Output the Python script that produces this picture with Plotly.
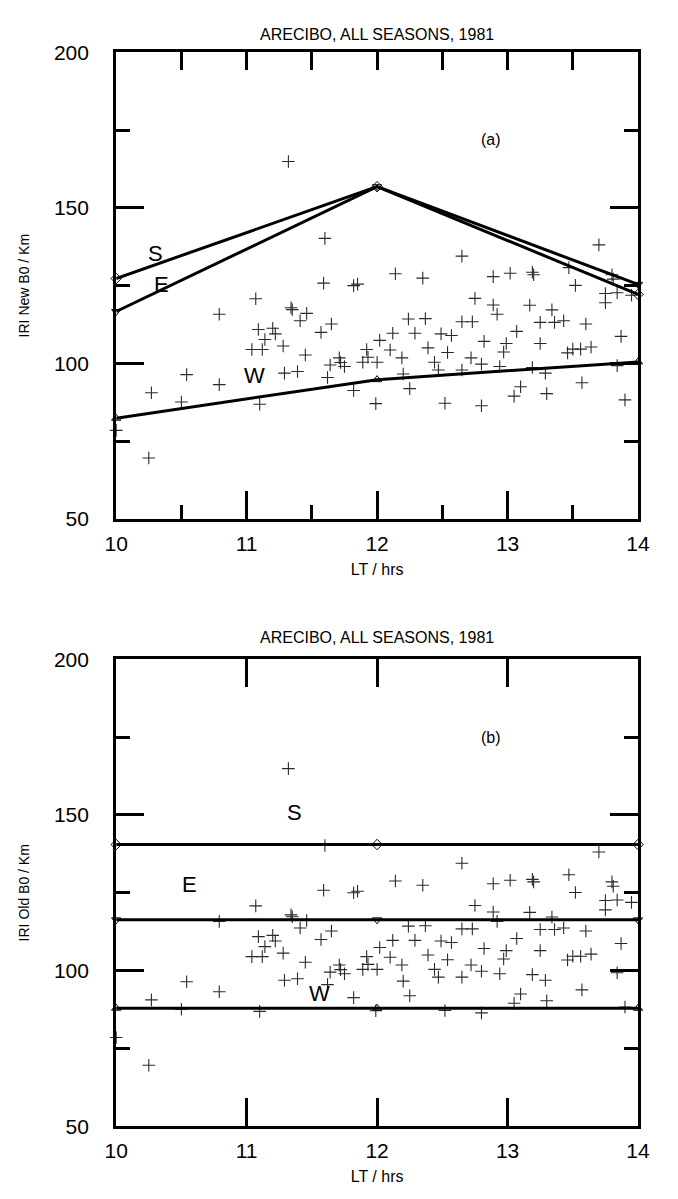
import plotly.graph_objects as go

# ---------------- data ----------------
lt_nodes = [10, 12, 14]
new_S = [127.3, 156.8, 122.2]
new_E = [116.7, 156.8, 125.4]
new_W = [82.4, 94.8, 100.5]
old_S = [140.5, 140.5, 140.5]
old_E = [116.3, 116.3, 116.3]
old_W = [87.9, 87.9, 87.9]

obs_lt = [
    11.32, 11.60, 11.59, 11.82, 11.85, 11.07, 10.79, 11.34, 11.35, 11.46, 11.41, 11.65,
    11.09, 11.20, 11.22, 11.14, 11.57, 11.04, 11.12, 11.28, 11.45, 11.71, 11.72, 11.75,
    11.64, 11.92, 11.93, 11.89, 12.00, 12.02, 10.54, 10.79, 10.27, 10.50, 11.29, 11.39,
    11.62, 11.82, 11.10, 11.99, 10.00, 10.25,
    13.70, 12.65, 12.14, 12.35, 12.89, 13.02, 13.19, 13.20, 13.47, 13.52, 13.80, 13.81,
    12.75, 12.89, 12.92, 13.17, 13.34, 13.75, 13.84, 13.75, 13.95, 12.24, 12.37, 12.65,
    12.73, 13.25, 13.36, 13.43, 13.60,
    13.87, 12.12, 12.29, 12.49, 12.57, 12.82, 12.99, 13.07, 13.25, 12.10, 12.39, 12.54,
    12.97, 13.46, 13.50, 13.56, 13.64, 12.19, 12.20, 12.44, 12.47, 12.72, 12.80, 12.65,
    12.94, 13.19, 13.29, 12.25, 12.52, 12.80, 13.05, 13.10, 13.30, 13.57, 13.84, 13.90,
]
obs_b0 = [
    164.9, 140.2, 125.8, 125.0, 125.5, 120.8, 115.8, 117.9, 117.3, 116.1, 113.7, 112.7,
    110.9, 111.3, 109.5, 107.7, 110.0, 104.5, 104.5, 105.6, 102.7, 101.8, 100.3, 99.0,
    99.5, 104.5, 102.0, 100.4, 100.4, 107.4, 96.4, 93.2, 90.6, 87.6, 96.9, 97.4,
    95.5, 91.3, 86.9, 87.1, 78.5, 69.6,
    138.1, 134.5, 128.8, 127.4, 127.9, 129.0, 129.3, 128.5, 130.8, 125.1, 128.5, 127.1,
    120.9, 118.8, 115.8, 118.7, 117.2, 122.5, 122.7, 119.5, 121.9, 114.3, 114.4, 113.4,
    113.4, 113.2, 113.2, 113.7, 112.7,
    108.7, 109.7, 109.7, 109.5, 109.0, 107.1, 106.4, 110.3, 106.4, 104.3, 105.0, 103.5,
    103.7, 103.4, 104.6, 104.6, 105.3, 101.8, 96.6, 100.4, 97.9, 101.8, 99.8, 97.9,
    99.0, 98.7, 96.9, 91.9, 87.2, 86.4, 89.5, 92.5, 90.3, 93.8, 99.3, 88.3,
]

x_ticks = [10, 11, 12, 13, 14]
y_ticks = [50, 100, 150, 200]
title_text = "ARECIBO, ALL SEASONS, 1981"

# ---------------- layout constants ----------------
W, H = 678, 1199
FONT = "Liberation Sans Narrow, Liberation Sans, Arial, sans-serif"
FONT2 = "Liberation Sans, Arial, sans-serif"
xd = [108 / W, 649 / W]
top_d = [1 - 517 / H, 1 - 41 / H]
bot_d = [1 - 1136 / H, 1 - 660 / H]

fig = go.Figure()

def add_panel(xa, ya, S, E, W_):
    fig.add_trace(go.Scatter(x=obs_lt, y=obs_b0, mode="markers", xaxis=xa, yaxis=ya,
                             marker=dict(symbol="cross-thin", size=9,
                                         line=dict(width=1.1, color="#2a2a2a")),
                             showlegend=False, cliponaxis=False))
    for vals, sym in [(S, "diamond-open"), (E, "triangle-down-open"), (W_, "triangle-up-open")]:
        fig.add_trace(go.Scatter(x=lt_nodes, y=vals, mode="lines+markers", xaxis=xa, yaxis=ya,
                                 line=dict(color="black", width=3),
                                 marker=dict(symbol=sym, size=8, color="black",
                                             line=dict(width=1, color="black")),
                                 showlegend=False, cliponaxis=False))

add_panel("x", "y", new_S, new_E, new_W)
add_panel("x2", "y2", old_S, old_E, old_W)

axis_common = dict(showline=True, linewidth=3, linecolor="black", showgrid=False,
                   zeroline=False, ticks="inside", tickcolor="black",
                   tickfont=dict(family=FONT, size=21, color="black"))

yax = dict(axis_common, range=[50, 200], tickvals=y_ticks, ticklen=28, tickwidth=3,
           mirror="ticks",
           minor=dict(ticks="inside", ticklen=14, tickwidth=3, dtick=25, tick0=50,
                      tickcolor="black", showgrid=False),
           ticklabelstandoff=20)

ytitle_font = dict(family=FONT2, size=14, color="black")
xtitle_font = dict(family=FONT2, size=16, color="black")

fig.update_layout(
    width=W, height=H, margin=dict(l=0, r=0, t=0, b=0),
    paper_bgcolor="white", plot_bgcolor="white",
    xaxis=dict(axis_common, domain=xd, anchor="y", range=[10, 14], tickvals=x_ticks,
               ticklen=28, tickwidth=2.5, mirror=True, ticklabelstandoff=4,
               minor=dict(ticks="inside", ticklen=14, tickwidth=2.5, dtick=0.5, tick0=10,
                          tickcolor="black", showgrid=False),
               title=dict(text="LT / hrs", font=xtitle_font, standoff=10)),
    xaxis3=dict(overlaying="x", side="top", anchor="y", range=[10, 14], dtick=0.5, tick0=10,
                ticks="inside", ticklen=18, tickwidth=2.5, tickcolor="black",
                showticklabels=False, showgrid=False, zeroline=False, showline=False),
    yaxis=dict(yax, domain=top_d, anchor="x",
               title=dict(text="IRI New B0 / Km", font=ytitle_font, standoff=22)),
    xaxis2=dict(axis_common, domain=xd, anchor="y2", range=[10, 14], tickvals=x_ticks,
                ticklen=28, tickwidth=2.5, mirror="ticks", ticklabelstandoff=4,
                title=dict(text="LT / hrs", font=xtitle_font, standoff=10)),
    yaxis2=dict(yax, domain=bot_d, anchor="x2",
                title=dict(text="IRI Old B0 / Km", font=ytitle_font, standoff=22)),
)
# invisible trace so the top tick axis (xaxis3) is drawn
fig.add_trace(go.Scatter(x=[10], y=[50], xaxis="x3", yaxis="y", mode="markers",
                         marker=dict(opacity=0), showlegend=False, hoverinfo="skip"))

ann = []
for y_pix in (23, 638):
    ann.append(dict(text=title_text, xref="paper", yref="paper", x=378.5 / W, y=1 - y_pix / H,
                    showarrow=False, font=dict(family=FONT2, size=16, color="black"),
                    xanchor="center", yanchor="middle"))
labels_top = [("S", 10.30, 135.3), ("E", 10.35, 125.3), ("W", 11.06, 96.2), ("(a)", 12.87, 172.0)]
labels_bot = [("S", 11.37, 150.8), ("E", 10.56, 127.6), ("W", 11.56, 92.7), ("(b)", 12.87, 175.0)]
for lst, xr, yr in [(labels_top, "x", "y"), (labels_bot, "x2", "y2")]:
    for t, xv, yv in lst:
        ann.append(dict(text=t, x=xv, y=yv, xref=xr, yref=yr, showarrow=False,
                        font=dict(family=FONT2, size=22 if len(t) == 1 else 16, color="black"),
                        xanchor="center", yanchor="middle"))
fig.update_layout(annotations=ann)

fig.write_html("out.html")
